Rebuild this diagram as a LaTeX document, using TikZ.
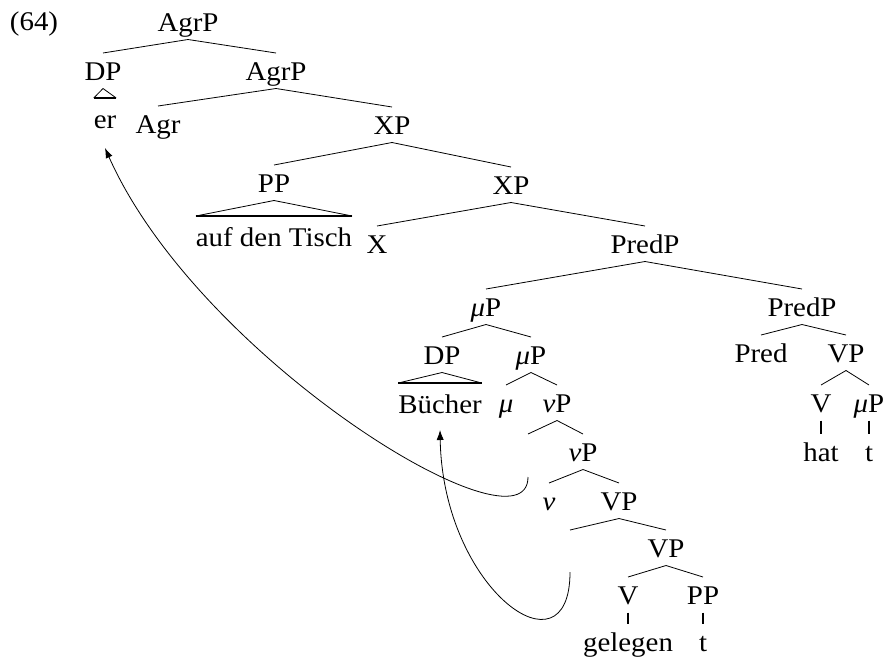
\documentclass[tikz,border=0pt]{standalone}
\usepackage{fontspec}
\setmainfont{Liberation Serif}[FakeStretch=1.07]
\usetikzlibrary{arrows.meta}

\begin{document}
\begin{tikzpicture}[x=0.5pt, y=-0.5pt, >={Latex[length=5pt,width=3.6pt]},
    lab/.style={anchor=base, inner sep=0pt, outer sep=0pt, text height=13.5pt, text depth=4.25pt,
        font=\fontsize{13.5pt}{15pt}\selectfont},
    leaf/.style={lab, text height=15pt},
    bar/.style={line width=1.2pt}]
    \useasboundingbox (0,0) rectangle (886,659);

    % labels
    \node [lab] (ex) at (34,30) {(64)};
    \node [lab] (agrp) at (188,31) {AgrP};
    \node [lab] (dper) at (103,80) {DP};
    \node [leaf] (er) at (105,128) {er};
    \node [lab] (agrpb) at (276,80) {AgrP};
    \node [lab] (agr) at (158,133) {Agr};
    \node [lab] (xp) at (392,134) {XP};
    \node [lab] (pp) at (274,192) {PP};
    \node [leaf] (tisch) at (274,246) {auf den Tisch};
    \node [lab] (xpb) at (511,194) {XP};
    \node [lab] (x) at (377,253) {X};
    \node [lab] (predp) at (645,253) {PredP};
    \node [lab] (mup) at (486,316) {\textit{μ}P};
    \node [lab] (predpb) at (802,316) {PredP};
    \node [lab] (dpb) at (442,364) {DP};
    \node [leaf] (buecher) at (440,413) {Bücher};
    \node [lab] (mupb) at (531,364) {\textit{μ}P};
    \node [lab] (mu) at (506,412) {\textit{μ}};
    \node [lab] (nup) at (557,412) {\textit{ν}P};
    \node [lab] (nut) at (528,461) {};
    \node [lab] (nupb) at (583,461) {\textit{ν}P};
    \node [lab] (nu) at (549,510) {\textit{ν}};
    \node [lab] (vp) at (619,510) {VP};
    \node [lab] (vt) at (570,557) {};
    \node [lab] (vpb) at (666,557) {VP};
    \node [lab] (vg) at (628,604) {V};
    \node [lab] (ppb) at (703,604) {PP};
    \node [lab] (gelegen) at (628,651) {gelegen};
    \node [lab] (tg) at (703,651) {t};
    \node [lab] (pred) at (761,362) {Pred};
    \node [lab] (vpc) at (846,362) {VP};
    \node [lab] (vh) at (821,412) {V};
    \node [lab] (mupc) at (869,412) {\textit{μ}P};
    \node [lab] (hat) at (821,461) {hat};
    \node [lab] (th) at (869,461) {t};

    % branches
    \draw (agrp.south) -- (dper.north) (agrp.south) -- (agrpb.north);
    \draw (agrpb.south) -- (agr.north) (agrpb.south) -- (xp.north);
    \draw (xp.south) -- (pp.north) (xp.south) -- (xpb.north);
    \draw (xpb.south) -- (x.north) (xpb.south) -- (predp.north);
    \draw (predp.south) -- (mup.north) (predp.south) -- (predpb.north);
    \draw (mup.south) -- (dpb.north) (mup.south) -- (mupb.north);
    \draw (mupb.south) -- (mu.north) (mupb.south) -- (nup.north);
    \draw (nup.south) -- (nut.north) (nup.south) -- (nupb.north);
    \draw (nupb.south) -- (nu.north) (nupb.south) -- (vp.north);
    \draw (vp.south) -- (vt.north) (vp.south) -- (vpb.north);
    \draw (vpb.south) -- (vg.north) (vpb.south) -- (ppb.north);
    \draw (predpb.south) -- (pred.north) (predpb.south) -- (vpc.north);
    \draw (vpc.south) -- (vh.north) (vpc.south) -- (mupc.north);

    % triangles
    \draw (dper.south) -- (er.north west) (dper.south) -- (er.north east);
    \draw [bar] (er.north west) -- (er.north east);
    \draw (pp.south) -- (tisch.north west) (pp.south) -- (tisch.north east);
    \draw [bar] (tisch.north west) -- (tisch.north east);
    \draw (dpb.south) -- (buecher.north west) (dpb.south) -- (buecher.north east);
    \draw [bar] (buecher.north west) -- (buecher.north east);

    % heads
    \draw [bar] (vg.south) -- (gelegen.north);
    \draw [bar] (ppb.south) -- (tg.north);
    \draw [bar] (vh.south) -- (hat.north);
    \draw [bar] (mupc.south) -- (th.north);

    % movement
    \draw [->] ([yshift=-3.75pt]nut.south) .. controls +(0,83) and +(94,212) .. ([yshift=-5.75pt]er.south);
    \draw [->] ([yshift=-3.25pt]vt.south) .. controls +(0,108) and +(3,160) .. ([yshift=-4.25pt]buecher.south);
\end{tikzpicture}
\end{document}
